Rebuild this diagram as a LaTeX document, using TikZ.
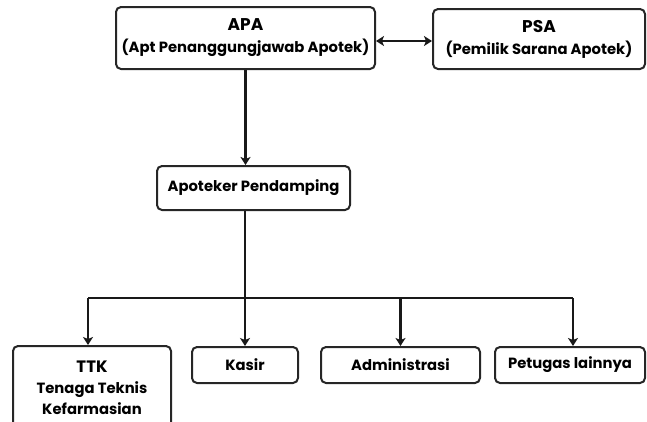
\documentclass[tikz,border=0pt]{standalone}
\usepackage{fontspec}
\setmainfont{Poppins}
\usetikzlibrary{arrows.meta}
\begin{document}
\begin{tikzpicture}[x=1pt,y=-1pt,
  box/.style={draw=black!85, line width=2pt, rounded corners=5pt, align=center, inner sep=0pt, font=\fontsize{14.8}{18}\selectfont\bfseries},
  conn/.style={line width=2.4pt, black!90},
  head/.style={Stealth[length=8pt,width=10pt,inset=2pt]},
  tip/.style={-{Stealth[length=8pt,width=10pt,inset=2pt]}}]
\clip (0,0) rectangle (647,421);
\useasboundingbox (0,0) rectangle (647,421);
\node[box, minimum width=259pt, minimum height=62pt] (apa) at (245.5,38) {{\fontsize{17}{19}\selectfont APA}\\[4pt](Apt Penanggungjawab Apotek)};
\node[box, minimum width=212pt, minimum height=60pt] (psa) at (539,39) {{\fontsize{17}{19}\selectfont PSA}\\[4pt](Pemilik Sarana Apotek)};
\node[box, minimum width=193pt, minimum height=44pt] (apo) at (253.5,188) {Apoteker Pendamping};
\node[box, minimum width=158pt, minimum height=90pt, anchor=north] (ttk) at (92,345) {};
\node[font=\fontsize{14.8}{21}\selectfont\bfseries, align=center, inner sep=0pt] (ttkt) at (92,388) {{\fontsize{16.5}{19}\selectfont TTK}\\Tenaga Teknis\\Kefarmasian};
\node[box, minimum width=106pt, minimum height=36pt] (kas) at (245,365) {Kasir};
\node[box, minimum width=159pt, minimum height=36pt] (adm) at (400.5,365) {Administrasi};
\node[box, minimum width=150pt, minimum height=36pt] (pet) at (570,365) {Petugas lainnya};
\draw[conn, {Stealth[length=8pt,width=10pt,inset=2pt]}-{Stealth[length=8pt,width=10pt,inset=2pt]}] ([yshift=-3pt]apa.east) -- ([yshift=-3pt]psa.west |- apa.east);
\draw[conn, tip] (apa.south) -- (apa.south |- apo.north);
\coordinate (bus) at (245,298);
\coordinate (busL) at (88,298);
\coordinate (busR) at (573,298);
\draw[conn] (apo.south -| bus) -- (bus);
\draw[conn] (busL) -- (busR);
\draw[conn, tip] (busL) -- (busL |- ttk.north);
\draw[conn, tip] (bus) -- (kas.north);
\draw[conn, tip] (adm.north |- bus) -- (adm.north);
\draw[conn, tip] (busR) -- (busR |- pet.north);
\end{tikzpicture}
\end{document}
